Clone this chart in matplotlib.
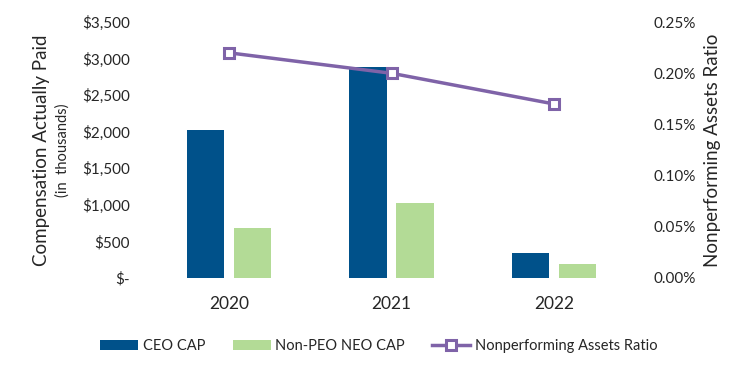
import matplotlib.pyplot as plt
import numpy as np
from matplotlib.ticker import FuncFormatter

# Data
years = ['2020', '2021', '2022']
ceo_cap = [2020, 2885, 340]          # $ thousands
neo_cap = [685, 1025, 190]           # $ thousands
npa_ratio = [0.22, 0.20, 0.17]       # percent

ceo_color = '#00518A'
neo_color = '#B3DB96'
line_color = '#7F63A8'
text_color = '#262626'

plt.rcParams['font.family'] = ['Lato', 'DejaVu Sans']

fig = plt.figure(figsize=(7.5, 3.75), dpi=100)
ax = fig.add_axes([0.197, 0.259, 0.65, 0.682])
ax2 = ax.twinx()

x = np.arange(len(years))
w = 0.23
b1 = ax.bar(x - 0.145, ceo_cap, width=w, color=ceo_color, label='CEO CAP', zorder=2)
b2 = ax.bar(x + 0.145, neo_cap, width=w, color=neo_color, label='Non-PEO NEO CAP', zorder=2)
ln, = ax2.plot(x, npa_ratio, color=line_color, lw=2.5, marker='s', markersize=7,
               markerfacecolor='white', markeredgecolor=line_color, markeredgewidth=2.2,
               label='Nonperforming Assets Ratio', zorder=3)

ax.set_xlim(-0.5, 2.5)
ax.set_ylim(0, 3500)
ax.set_yticks(np.arange(0, 3501, 500))
ax2.set_ylim(0, 0.25)
ax2.set_yticks(np.arange(0, 0.2501, 0.05))

ax.yaxis.set_major_formatter(FuncFormatter(lambda v, p: '$-' if v == 0 else '${:,.0f}'.format(v)))
ax2.yaxis.set_major_formatter(FuncFormatter(lambda v, p: '{:.2f}%'.format(v)))

ax.set_xticks(x)
ax.set_xticklabels(years, fontsize=12.5, color=text_color)
ax.tick_params(axis='x', length=0, pad=13)
ax.tick_params(axis='y', length=0, labelsize=11, colors=text_color, pad=13)
ax2.tick_params(axis='y', length=0, labelsize=11, colors=text_color, pad=13)

for a in (ax, ax2):
    for s in a.spines.values():
        s.set_visible(False)
ax2.patch.set_visible(False)

fig.text(0.056, 0.6, 'Compensation Actually Paid', rotation=90, ha='center', va='center',
         fontsize=13.5, color=text_color)
fig.text(0.083, 0.6, '(in  thousands)', rotation=90, ha='center', va='center',
         fontsize=10.5, color=text_color)
fig.text(0.95, 0.6, 'Nonperforming Assets Ratio', rotation=90, ha='center', va='center',
         fontsize=13.5, color=text_color)

fig.legend(handles=[b1, b2, ln], loc='center', bbox_to_anchor=(0.505, 0.078), ncol=3,
           frameon=False, fontsize=10.5, handlelength=2.6, columnspacing=1.9,
           handletextpad=0.3, labelcolor=text_color)

fig.savefig('out.png', dpi=100)
